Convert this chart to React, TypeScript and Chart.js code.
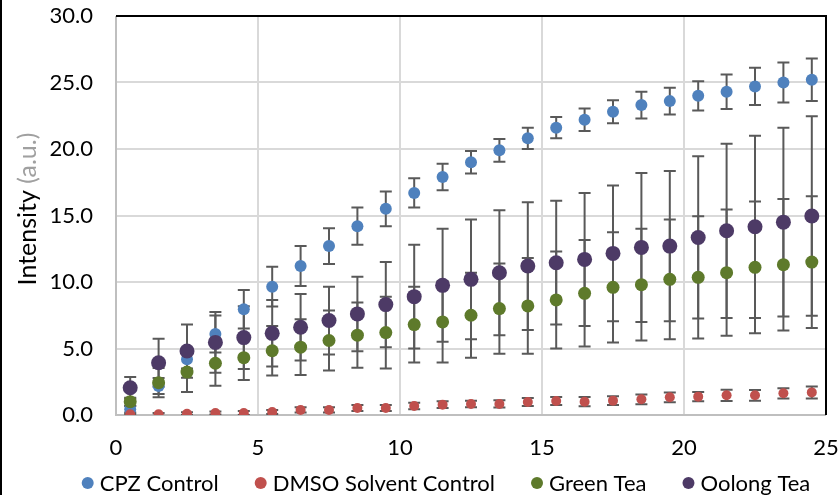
import React, { useEffect, useRef } from "react";
import { Chart, registerables } from "chart.js";

Chart.register(...registerables);

// ---- Data ----
const timePoints = [0.5, 1.5, 2.5, 3.5, 4.5, 5.5, 6.5, 7.5, 8.5, 9.5, 10.5, 11.5, 12.5, 13.5, 14.5, 15.5, 16.5, 17.5, 18.5, 19.5, 20.5, 21.5, 22.5, 23.5, 24.5];

const seriesNames = ["CPZ Control", "DMSO Solvent Control", "Green Tea", "Oolong Tea"];

const cpzValues = [0.43, 2.18, 4.19, 6.09, 7.95, 9.65, 11.2, 12.7, 14.2, 15.5, 16.7, 17.9, 19.0, 19.9, 20.8, 21.6, 22.2, 22.8, 23.3, 23.6, 24.0, 24.3, 24.7, 25.0, 25.2];
const cpzErrors = [0.25, 0.6, 0.7, 1.4, 1.45, 1.5, 1.5, 1.35, 1.4, 1.3, 1.1, 1.0, 0.85, 0.85, 0.8, 0.8, 0.85, 0.87, 1.0, 1.0, 1.1, 1.3, 1.4, 1.5, 1.6];

const dmsoValues = [0.05, 0.05, 0.1, 0.15, 0.15, 0.23, 0.38, 0.38, 0.53, 0.53, 0.68, 0.78, 0.83, 0.83, 0.98, 1.05, 1.0, 1.08, 1.18, 1.33, 1.38, 1.48, 1.48, 1.63, 1.7];
const dmsoErrors = [0.05, 0.1, 0.1, 0.12, 0.15, 0.15, 0.2, 0.2, 0.22, 0.22, 0.25, 0.25, 0.25, 0.27, 0.3, 0.3, 0.35, 0.33, 0.37, 0.37, 0.35, 0.42, 0.4, 0.38, 0.45];

const greenValues = [1.0, 2.43, 3.23, 3.89, 4.31, 4.83, 5.1, 5.6, 6.0, 6.2, 6.8, 7.0, 7.5, 8.0, 8.2, 8.65, 9.15, 9.6, 9.8, 10.2, 10.35, 10.7, 11.1, 11.3, 11.5];
const greenErrors = [0.3, 1.1, 1.5, 1.7, 1.68, 1.86, 2.1, 2.25, 2.45, 2.7, 2.85, 3.05, 3.2, 3.4, 3.6, 3.65, 4.0, 4.15, 4.2, 4.5, 4.6, 4.75, 4.95, 4.95, 4.95];

const oolongValues = [2.05, 3.93, 4.81, 5.46, 5.82, 6.14, 6.6, 7.1, 7.6, 8.3, 8.9, 9.75, 10.2, 10.7, 11.2, 11.45, 11.7, 12.15, 12.6, 12.7, 13.35, 13.85, 14.15, 14.5, 14.96];
const oolongErrors = [0.8, 1.8, 2.0, 2.28, 2.36, 2.5, 2.5, 2.55, 2.8, 3.2, 3.9, 4.25, 4.5, 4.7, 4.8, 4.65, 5.0, 5.1, 5.6, 5.65, 6.1, 6.55, 6.85, 7.1, 7.5];

const xTicks = [0, 5, 10, 15, 20, 25];
const yTicks = [0, 5, 10, 15, 20, 25, 30];

const yTitleMain = "Intensity";
const yTitleUnit = "(a.u.)";

// ---- Styles ----
const FONT = "Lato, 'Open Sans', sans-serif";
const FONT_SIZE = 22;
const colors = ["#4F81BD", "#C0504D", "#5E7A2B", "#4D3A66"];
const radii = [6, 5, 6.5, 7.5];
const allValues = [cpzValues, dmsoValues, greenValues, oolongValues];
const allErrors = [cpzErrors, dmsoErrors, greenErrors, oolongErrors];

export default function App() {
  const ref = useRef<HTMLCanvasElement>(null);

  useEffect(() => {
    if (!ref.current) return;

    const framePlugin = {
      id: "frame",
      beforeDatasetsDraw(chart: any) {
        const { ctx, chartArea: a } = chart;
        ctx.save();
        ctx.strokeStyle = "#BFBFBF";
        ctx.lineWidth = 2;
        ctx.beginPath();
        ctx.moveTo(a.left, a.top);
        ctx.lineTo(a.left, a.bottom);
        ctx.lineTo(a.right, a.bottom);
        ctx.stroke();
        ctx.strokeStyle = "#000000";
        ctx.beginPath();
        ctx.moveTo(a.left, a.top);
        ctx.lineTo(a.right, a.top);
        ctx.lineTo(a.right, a.bottom);
        ctx.stroke();
        ctx.restore();

        const xs = chart.scales.x;
        const ys = chart.scales.y;
        ctx.save();
        ctx.beginPath();
        ctx.rect(a.left, a.top - 2, a.right - a.left, a.bottom - a.top + 2);
        ctx.clip();
        ctx.strokeStyle = "#595959";
        ctx.lineWidth = 2;
        const cap = 6;
        for (let s = 0; s < allValues.length; s++) {
          const vals = allValues[s];
          const errs = allErrors[s];
          for (let j = 0; j < vals.length; j++) {
            const px = xs.getPixelForValue(timePoints[j]);
            const top = ys.getPixelForValue(vals[j] + errs[j]);
            const bot = ys.getPixelForValue(vals[j] - errs[j]);
            ctx.beginPath();
            ctx.moveTo(px, top);
            ctx.lineTo(px, bot);
            ctx.moveTo(px - cap, top);
            ctx.lineTo(px + cap, top);
            ctx.moveTo(px - cap, bot);
            ctx.lineTo(px + cap, bot);
            ctx.stroke();
          }
        }
        ctx.restore();
      },
      afterDraw(chart: any) {
        const { ctx } = chart;
        ctx.save();
        ctx.fillStyle = "#000000";
        ctx.fillRect(0, 0, 2, chart.height);

        // y axis title
        ctx.font = `25px ${FONT}`;
        ctx.textBaseline = "middle";
        const mainText = yTitleMain + " ";
        const w1 = ctx.measureText(mainText).width;
        const w2 = ctx.measureText(yTitleUnit).width;
        const total = w1 + w2;
        ctx.translate(27.5, 209);
        ctx.rotate(-Math.PI / 2);
        ctx.textAlign = "left";
        ctx.fillStyle = "#000000";
        ctx.fillText(mainText, -total / 2, 0);
        ctx.fillStyle = "#A0A0A0";
        ctx.fillText(yTitleUnit, -total / 2 + w1, 0);
        ctx.restore();

        // legend
        ctx.save();
        ctx.font = `${FONT_SIZE}px ${FONT}`;
        ctx.textBaseline = "middle";
        ctx.textAlign = "left";
        const dotR = 6;
        const dotToText = 12;
        const gap = 42;
        const widths = seriesNames.map((n) => ctx.measureText(n).width);
        let totalW = 0;
        widths.forEach((w, i) => {
          totalW += dotToText + w;
          if (i < widths.length - 1) totalW += gap;
        });
        const legendCenter = 446;
        let cx = legendCenter - (totalW + dotR) / 2 + dotR;
        const cy = 483;
        for (let i = 0; i < seriesNames.length; i++) {
          ctx.fillStyle = colors[i];
          ctx.beginPath();
          ctx.arc(cx, cy, dotR, 0, Math.PI * 2);
          ctx.fill();
          ctx.fillStyle = "#000000";
          ctx.fillText(seriesNames[i], cx + dotToText, cy + 1);
          cx = cx + dotToText + widths[i] + gap;
        }
        ctx.restore();
      },
    };

    const datasets = allValues.map((vals, s) => ({
      label: seriesNames[s],
      data: vals.map((v, j) => ({ x: timePoints[j], y: v })),
      backgroundColor: colors[s],
      borderColor: colors[s],
      borderWidth: 0,
      pointRadius: radii[s],
      pointHoverRadius: radii[s],
      showLine: false,
      order: allValues.length - s,
    }));

    const chart = new Chart(ref.current, {
      type: "scatter",
      data: { datasets },
      options: {
        responsive: false,
        animation: false,
        devicePixelRatio: 1,
        layout: { padding: { left: 0, right: 13, top: 16, bottom: 0 } },
        plugins: {
          legend: { display: false },
          tooltip: { enabled: false },
        },
        scales: {
          x: {
            type: "linear",
            min: xTicks[0],
            max: xTicks[xTicks.length - 1],
            afterBuildTicks: (scale: any) => {
              scale.ticks = xTicks.map((v) => ({ value: v }));
            },
            afterFit: (scale: any) => {
              scale.height = 80;
              scale.paddingLeft = 0;
              scale.paddingRight = 0;
              scale.paddingTop = 0;
              scale.paddingBottom = 0;
            },
            grid: {
              color: "#D9D9D9",
              lineWidth: 2,
              drawTicks: false,
            },
            border: { display: false },
            ticks: {
              color: "#000000",
              font: { family: FONT, size: FONT_SIZE },
              padding: 20,
              maxRotation: 0,
              callback: (v: any) => String(v),
            },
          },
          y: {
            type: "linear",
            min: yTicks[0],
            max: yTicks[yTicks.length - 1],
            afterBuildTicks: (scale: any) => {
              scale.ticks = yTicks.map((v) => ({ value: v }));
            },
            afterFit: (scale: any) => {
              scale.width = 116;
              scale.paddingLeft = 0;
              scale.paddingRight = 0;
              scale.paddingTop = 0;
              scale.paddingBottom = 0;
            },
            grid: {
              color: "#D9D9D9",
              lineWidth: 2,
              drawTicks: false,
            },
            border: { display: false },
            ticks: {
              color: "#000000",
              font: { family: FONT, size: FONT_SIZE },
              padding: 23,
              callback: (v: any) => Number(v).toFixed(1),
            },
          },
        },
      },
      plugins: [framePlugin],
    });

    return () => chart.destroy();
  }, []);

  return (
    <div style={{ position: "absolute", left: 0, top: 0, width: 839, height: 495, background: "#ffffff" }}>
      <canvas ref={ref} width={839} height={495} style={{ display: "block", width: 839, height: 495 }} />
    </div>
  );
}
